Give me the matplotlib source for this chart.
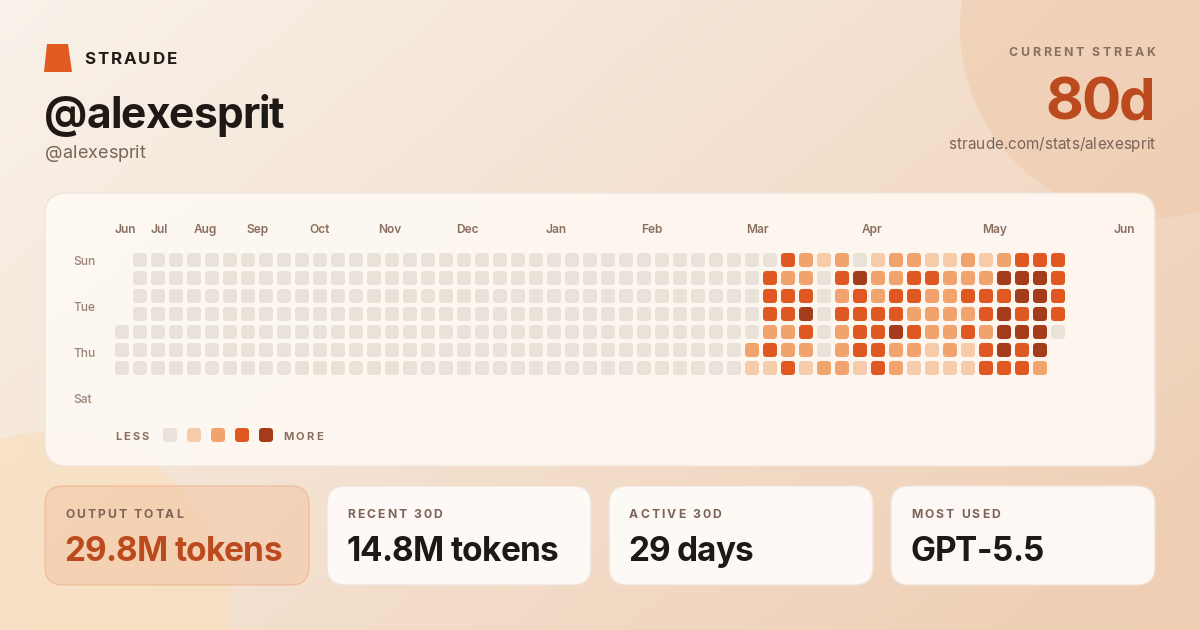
import numpy as np
import matplotlib
matplotlib.use("Agg")
import matplotlib.pyplot as plt
from matplotlib.patches import FancyBboxPatch, Circle, Polygon
from matplotlib.font_manager import FontProperties
from matplotlib.textpath import TextToPath

FONT = "Inter"

# activity levels, one string per weekday row, one char per week ('.' = no day)
# written in groups of ten weeks
levels = [
    ".000000000 0000000000 0000000000 0000000321 2012211212 333",
    ".000000000 0000000000 0000000000 0000003220 3422332224 443",
    ".000000000 0000000000 0000000000 0000003330 2323322333 443",
    ".000000000 0000000000 0000000000 0000003340 3333222234 343",
    "0000000000 0000000000 0000000000 0000002230 2334322324 440",
    "0000000000 0000000000 0000000000 0000023220 2332212134 34.",
    "0000000000 0000000000 0000000000 0000011312 2132111133 32.",
]
levels = [row.replace(" ", "") for row in levels]
level_colors = ["#E9E2D8", "#F6CBAA", "#F0A36C", "#DF5821", "#A43C1B"]

months = ["Jun", "Jul", "Aug", "Sep", "Oct", "Nov", "Dec", "Jan", "Feb", "Mar", "Apr", "May", "Jun"]
month_week = [0.2, 2.05, 4.65, 7.55, 10.95, 14.9, 19.2, 24.1, 29.45, 35.3, 41.65, 48.5, 55.7]
day_labels = ["Sun", "Tue", "Thu", "Sat"]

user = "alexesprit"
streak = "80d"
stat_labels = ["OUTPUT TOTAL", "RECENT 30D", "ACTIVE 30D", "MOST USED"]
stat_values = ["29.8M tokens", "14.8M tokens", "29 days", "GPT-5.5"]

fig = plt.figure(figsize=(12, 6.3), dpi=100)
ax = fig.add_axes([0, 0, 1, 1])
ax.set_xlim(0, 1200)
ax.set_ylim(630, 0)
ax.axis("off")

# background gradient
c1 = np.array(matplotlib.colors.to_rgb("#F9F2EA"))
c2 = np.array(matplotlib.colors.to_rgb("#EECDB2"))
gx, gy = np.meshgrid(np.linspace(0, 1, 240), np.linspace(0, 1, 126))
t = np.clip(0.62 * gx + 0.38 * gy, 0, 1)[..., None]
ax.imshow(c1 * (1 - t) + c2 * t, extent=[0, 1200, 630, 0], aspect="auto", zorder=0)
ax.add_patch(Circle((1150, 28), 190, fc="#EFC6A6", alpha=0.45, lw=0, zorder=1))
ax.add_patch(Circle((50, 612), 180, fc="#F9DFBD", alpha=0.65, lw=0, zorder=1))

ttp = TextToPath()


def text_w(s, fp):
    if not s:
        return 0.0
    w, h, d = ttp.get_text_width_height_descent(s + "|", fp, ismath=False)
    w0, h0, d0 = ttp.get_text_width_height_descent("|", fp, ismath=False)
    return (w - w0) * 100 / 72


def spaced(x, y, s, size, color, weight="bold", spacing=0.0, ha="left", zorder=5):
    fp = FontProperties(family=FONT, size=size, weight=weight)
    total = text_w(s, fp) + spacing * (len(s) - 1)
    if ha == "right":
        x -= total
    for i, ch in enumerate(s):
        if ch == " ":
            continue
        ax.text(x + text_w(s[:i], fp) + spacing * i, y, ch, fontproperties=fp,
                color=color, va="baseline", ha="left", zorder=zorder)


# header
ax.add_patch(Polygon([(47, 44), (68, 44), (72, 72), (44, 72)], closed=True,
                     fc="#E05A22", lw=0, zorder=5))
spaced(84, 64.5, "STRAUDE", 12.2, "#221A15", spacing=2.0)
spaced(44, 128, "@" + user, 30.6, "#1F1915", spacing=-0.9)
spaced(45, 158, "@" + user, 13.0, "#7A6558", weight="normal", spacing=0)
spaced(1155, 56, "CURRENT STREAK", 8.9, "#8A6F60", spacing=2.6, ha="right")
spaced(1156, 120, streak, 42.0, "#BC4A1F", spacing=-1.5, ha="right")
spaced(1155, 149, "straude.com/stats/" + user, 11.0, "#7A6558", weight="normal", ha="right")

# heatmap card
ax.add_patch(FancyBboxPatch((45, 193), 1110, 273, boxstyle="round,pad=0,rounding_size=22",
                            fc="#FFFAF5", ec="#EFE4DA", lw=1, alpha=0.88, zorder=2))

x0, y0, pitch, cell = 122, 260, 18, 14
for r, row in enumerate(levels):
    for c, v in enumerate(row):
        if v == ".":
            continue
        ax.add_patch(FancyBboxPatch((x0 + c * pitch - cell / 2, y0 + r * pitch - cell / 2), cell, cell,
                                    boxstyle="round,pad=0,rounding_size=3.5",
                                    fc=level_colors[int(v)], lw=0, zorder=4))

for m, w in zip(months, month_week):
    ax.text(x0 + w * pitch, 230, m, family=FONT, size=8.6, weight="semibold",
            color="#8A6F60", ha="center", va="center", zorder=5)
for i, d in enumerate(day_labels):
    ax.text(73, 262 + 46 * i, d, family=FONT, size=8.6, weight="medium",
            color="#9A8373", ha="left", va="center", zorder=5)

# legend
spaced(115, 439.5, "LESS", 8.0, "#8A6F60", spacing=2.2)
for i, col in enumerate(level_colors):
    ax.add_patch(FancyBboxPatch((163 + 24 * i, 428), 14, 14, boxstyle="round,pad=0,rounding_size=3.5",
                                fc=col, lw=0, zorder=4))
spaced(283, 439.5, "MORE", 8.0, "#8A6F60", spacing=2.2)

# stat cards
for i, (lab, val) in enumerate(zip(stat_labels, stat_values)):
    cx = 45 + 282 * i
    if i == 0:
        fc, ec, a, vc = "#F2C4A2", "#EAA77F", 0.5, "#BC4A1F"
    else:
        fc, ec, a, vc = "#FFFCFA", "#EFE3D9", 0.92, "#1E1915"
    ax.add_patch(FancyBboxPatch((cx, 486), 264, 99, boxstyle="round,pad=0,rounding_size=18",
                                fc=fc, ec=ec, lw=1, alpha=a, zorder=2))
    spaced(cx + 20, 518, lab, 8.8, "#7D6456", spacing=2.0)
    spaced(cx + 19, 561, val, 24.0, vc, spacing=-0.7)

fig.savefig("out.png", dpi=100)
